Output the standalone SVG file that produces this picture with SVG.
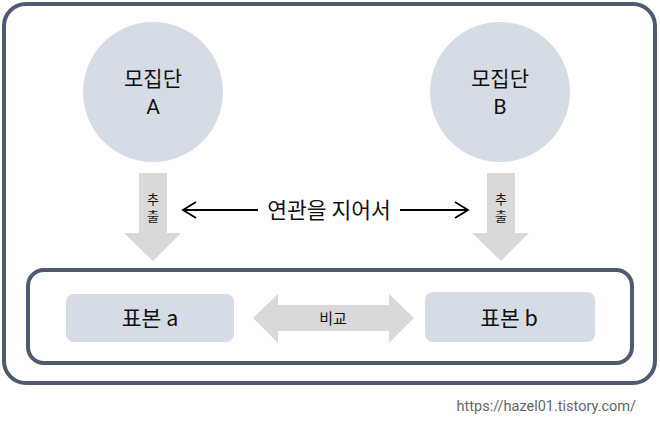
<svg xmlns="http://www.w3.org/2000/svg" width="660" height="421" viewBox="0 0 660 421">
<style>
.t{font-family:"Noto Sans CJK KR","Noto Sans",sans-serif;fill:#111;text-anchor:middle}
.l{font-family:Roboto,"Noto Sans",sans-serif;fill:#111;text-anchor:middle;font-size:21px}
.v{font-family:"Noto Sans CJK KR","Noto Sans",sans-serif;fill:#111;text-anchor:middle;writing-mode:vertical-rl;font-size:13px;letter-spacing:4px}
.pop{fill:#d6dce6}
.box{fill:#d6dce6}
.frame{fill:none;stroke:#4f5a6f;stroke-width:4}
.garrow{fill:#d9d9d9}
.line{stroke:#000;stroke-width:1.8;fill:none}
</style>
<rect width="660" height="421" fill="#fff"/>
<rect class="frame" x="4" y="4" width="651" height="379" rx="22"/>
<rect class="frame" x="28" y="270" width="604" height="93" rx="16"/>
<g id="popA"><circle class="pop" cx="153" cy="92" r="70"/><text class="t" x="153" y="86" font-size="21">모집단</text><text class="l" x="153" y="114">A</text></g>
<g id="popB"><circle class="pop" cx="500" cy="92" r="70"/><text class="t" x="500" y="86" font-size="21">모집단</text><text class="l" x="500" y="114">B</text></g>
<g id="sampleA"><rect class="box" x="66" y="294" width="168" height="48" rx="8"/><text class="t" x="150" y="326" font-size="21.5">표본 a</text></g>
<g id="sampleB"><rect class="box" x="425" y="292" width="170" height="50" rx="8"/><text class="t" x="509" y="326" font-size="21.5">표본 b</text></g>
<g id="connectors">
<g id="extractA"><polygon class="garrow" points="139,173 167,173 167,233 181,233 153,261 124,233 139,233"/><text class="v" x="153" y="210">추출</text></g>
<g id="extractB"><polygon class="garrow" points="487,173 515,173 515,233 529,233 501,261 472,233 487,233"/><text class="v" x="501" y="210">추출</text></g>
<g id="compare"><polygon class="garrow" points="253,318 278,294 278,305 389,305 389,294 414,318 389,343 389,331 278,331 278,343"/><text class="t" x="333" y="324" font-size="15">비교</text></g>
<g id="relate"><path class="line" d="M183,210 H258 M400,210 H468"/><path class="line" d="M196,202 L183,210 L196,218 M455,202 L468,210 L455,218"/><text class="t" x="329" y="218" font-size="21.5">연관을 지어서</text></g>
</g>
<text x="636" y="411" font-family="Roboto,'Liberation Sans',sans-serif" font-size="14.5" fill="#666" text-anchor="end">https://hazel01.tistory.com/</text>
</svg>
